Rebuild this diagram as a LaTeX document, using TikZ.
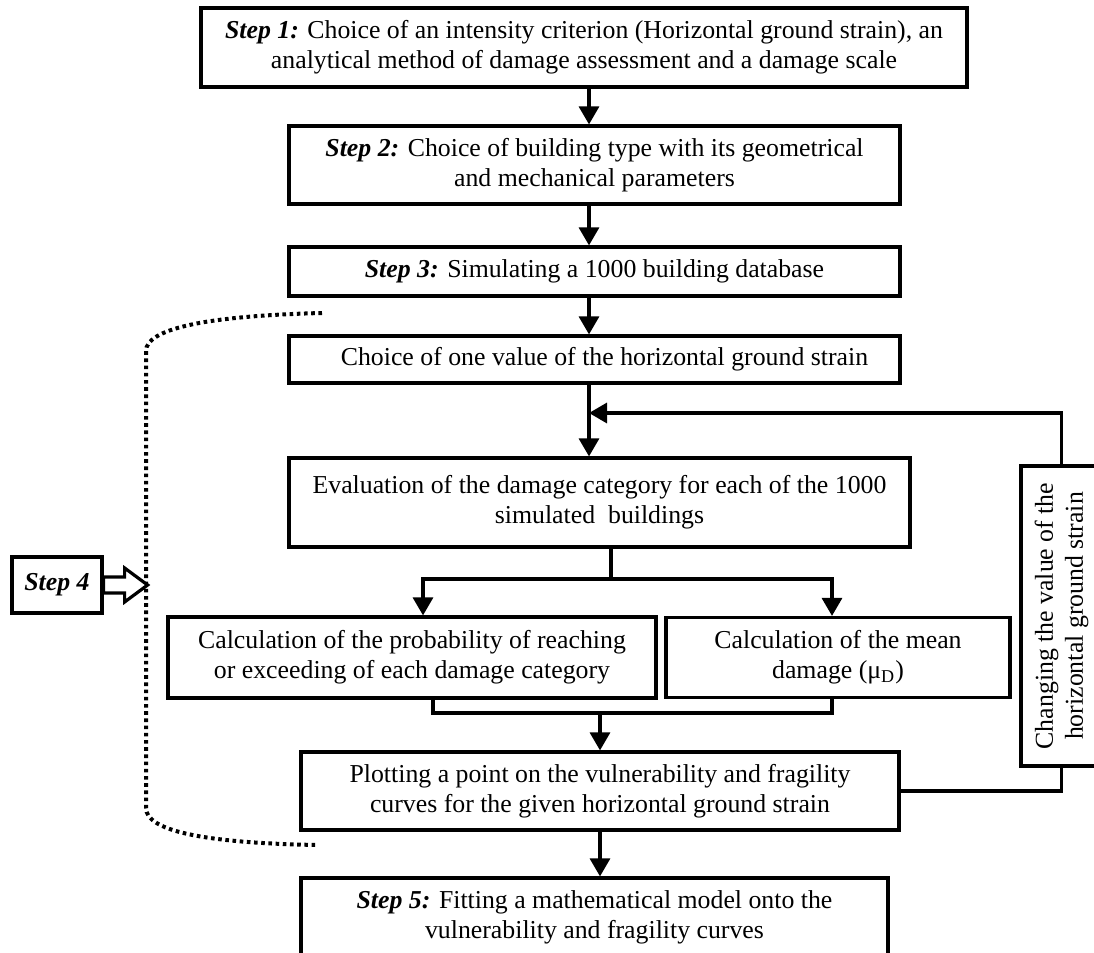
\documentclass[tikz,border=0pt]{standalone}
\usepackage{fontspec}
\setmainfont{Liberation Serif}
\usepackage{tikz}
\usetikzlibrary{arrows.meta,positioning,calc}
\tikzset{
  box-style/.style = {
    rectangle, draw, line width=1.6pt,
    align=center, inner sep=2pt,
    font=\fontsize{12.9}{15}\selectfont
  },
  side-style/.style = {
    box-style, rotate=90
  },
  hollow-style/.style = {
    draw, fill=white, line width=1.6pt, line join=miter
  },
  dots-style/.style = {
    line width=2pt, dash pattern=on 1.8pt off 1.8pt
  },
  link-style/.style = {
    draw, line width=1.6pt
  },
  every edge/.style = {draw, line width=1.6pt},
  >={Triangle[width=10pt,length=9pt]}
}
\newcommand\steplabel[1]{\textbf{\textit{Step #1:}}}

\begin{document}
\begin{tikzpicture}[x=0.5pt,y=-0.5pt]
    \useasboundingbox (0,0) rectangle (1094,953);

    %%% main column
    \node[box-style,minimum width=383pt,minimum height=39.5pt] (s1) at (584,47.5)
      {\steplabel{1} Choice of an intensity criterion (Horizontal ground strain), an\\
       analytical method of damage assessment and a damage scale};
    \node[box-style,minimum width=305.5pt,minimum height=39pt] (s2) at (594.5,165)
      {\steplabel{2} Choice of building type with its geometrical\\
       and mechanical parameters};
    \node[box-style,minimum width=305.5pt,minimum height=24.5pt] (s3) at (594.5,271.5)
      {\steplabel{3} Simulating a 1000 building database};
    \node[box-style,minimum width=305.5pt,minimum height=23.5pt] (choice) at (594.5,359.5)
      {\hspace*{10pt}Choice of one value of the horizontal ground strain};
    \node[box-style,minimum width=310.5pt,minimum height=44.5pt] (eval) at (599.5,502.5)
      {Evaluation of the damage category for each of the 1000\\
       simulated\ \ buildings};
    \node[box-style,minimum width=244pt,minimum height=40.5pt] (prob) at (412,657.5)
      {Calculation of the probability of reaching\\
       or exceeding of each damage category};
    \node[box-style,minimum width=172pt,minimum height=40pt] (mean) at (838,657.5)
      {Calculation of the mean\\
       damage (μ\textsubscript{D})};
    \node[box-style,minimum width=299pt,minimum height=39pt] (plot) at (600,791)
      {Plotting a point on the vulnerability and fragility\\
       curves for the given horizontal ground strain};
    \node[box-style,minimum width=293.5pt,minimum height=39pt] (s5) at (594.5,917)
      {\steplabel{5} Fitting a mathematical model onto the\\
       vulnerability and fragility curves};

    %%% loop box
    \node[side-style,minimum width=150pt,minimum height=40.5pt] (chg) at (1061.5,616)
      {Changing the value of the\\
       horizontal ground strain};

    %%% step 4 marker
    \coordinate (d4top) at (322,313);
    \coordinate (d4bot) at (318,845);
    \draw[dots-style] (d4top) .. controls (200,316) and (146,330) .. (146,351)
      -- (146,808) .. controls (146,830) and (200,843) .. (d4bot);
    \node[box-style,minimum width=45pt,minimum height=28pt] (s4) at (57,585)
      {\textbf{\textit{Step 4}}};
    \draw[hollow-style] (s4.east) ++(0,-8) -- ++(21,0) -- ++(0,-9) -- ++(23,17)
      -- ++(-23,17) -- ++(0,-9) -- ++(-21,0) -- cycle;

    %%% arrows
    \coordinate (ax) at (589,0);
    \coordinate (join) at (589,413);
    \coordinate (split) at (611,579);
    \coordinate (pl) at (423,579);
    \coordinate (pr) at (832,579);
    \coordinate (bl) at (433,713);
    \coordinate (br) at (832,713);
    \coordinate (mid) at (600,713);
    \path[->] (s1.south -| ax) edge (s2.north -| ax);
    \path[->] (s2.south -| ax) edge (s3.north -| ax);
    \path[->] (s3.south -| ax) edge (choice.north -| ax);
    \path[->] (choice.south -| ax) edge (eval.north -| ax);
    \draw[link-style,->] (eval.south -| split) |- (pl) -- (prob.north -| pl);
    \draw[link-style,->] (split) -| (mean.north -| pr);
    \draw[link-style] (prob.south -| bl) |- (br) -- (mean.south -| br);
    \path[->] (mid) edge (plot.north -| mid);
    \path[->] (plot.south -| mid) edge (s5.north -| mid);
    \draw[link-style,->] (chg.east) |- (join);
    \draw[link-style] (chg.west) |- (plot.east);
\end{tikzpicture}
\end{document}
